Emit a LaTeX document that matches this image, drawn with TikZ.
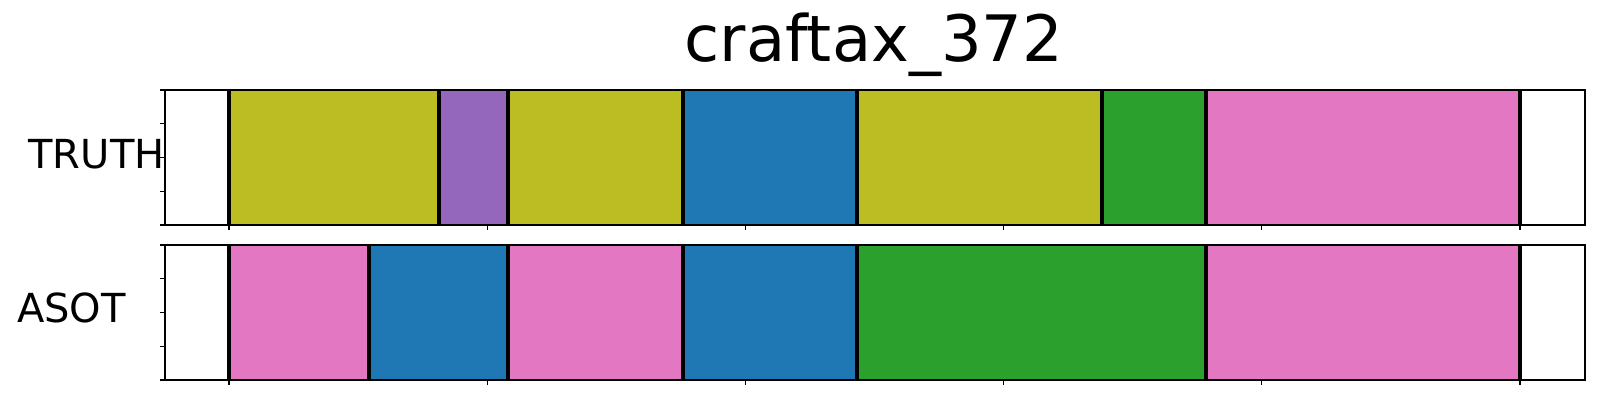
\documentclass[tikz,border=0pt]{standalone}
\usepackage{fontspec}
\setmainfont{DejaVu Sans}
\definecolor{tabolive}{HTML}{BCBD22}
\definecolor{tabpurple}{HTML}{9467BD}
\definecolor{tabblue}{HTML}{1F77B4}
\definecolor{tabpink}{HTML}{E377C2}
\definecolor{tabgreen}{HTML}{2CA02C}

\begin{document}
\begin{tikzpicture}[x=0.5pt, y=-0.5pt,
    bound/.style={line width=2pt},
    frame/.style={line width=0.6pt},
    tickmark/.style={line width=0.6pt},
    rowlabel/.style={inner sep=0pt, anchor=base, font=\fontsize{20}{24}\selectfont}]
    \useasboundingbox (0,0) rectangle (1600,400);

    % segments, top row (TRUTH) and bottom row (ASOT)
    \foreach \a/\b/\c in {229/438.5/tabolive, 438.5/508/tabpurple, 508/683/tabolive,
        683/857/tabblue, 857/1102/tabolive, 1102/1206/tabgreen, 1206/1520/tabpink}
      \fill [\c] (\a,90) rectangle (\b,225);
    \foreach \a/\b/\c in {229/369/tabpink, 369/508/tabblue, 508/683/tabpink,
        683/857/tabblue, 857/1206/tabgreen, 1206/1520/tabpink}
      \fill [\c] (\a,245) rectangle (\b,380);

    % boundaries
    \foreach \x in {229, 438.5, 508, 683, 857, 1102, 1206, 1520}
      \draw [bound] (\x,90) -- (\x,225);
    \foreach \x in {229, 369, 508, 683, 857, 1206, 1520}
      \draw [bound] (\x,245) -- (\x,380);

    % axes frames and ticks
    \foreach \t/\bt in {90/225, 245/380} {
      \draw [frame] (165,\t) rectangle (1585,\bt);
      \foreach \x in {229, 487.2, 745.4, 1003.6, 1261.8, 1520}
        \draw [tickmark] (\x,\bt) -- (\x,\bt+5);
      \foreach \f in {0, 0.25, 0.5, 0.75, 1}
        \draw [tickmark] (165,{\t+\f*135}) -- (160,{\t+\f*135});
    }

    \node (title) [inner sep=0pt, anchor=base, font=\fontsize{32}{38}\selectfont] at (874,62) {craftax\_372};
    \node (truth) [rowlabel] at (96.5,169) {TRUTH};
    \node (asot) [rowlabel] at (71.5,323) {ASOT};
\end{tikzpicture}
\end{document}
